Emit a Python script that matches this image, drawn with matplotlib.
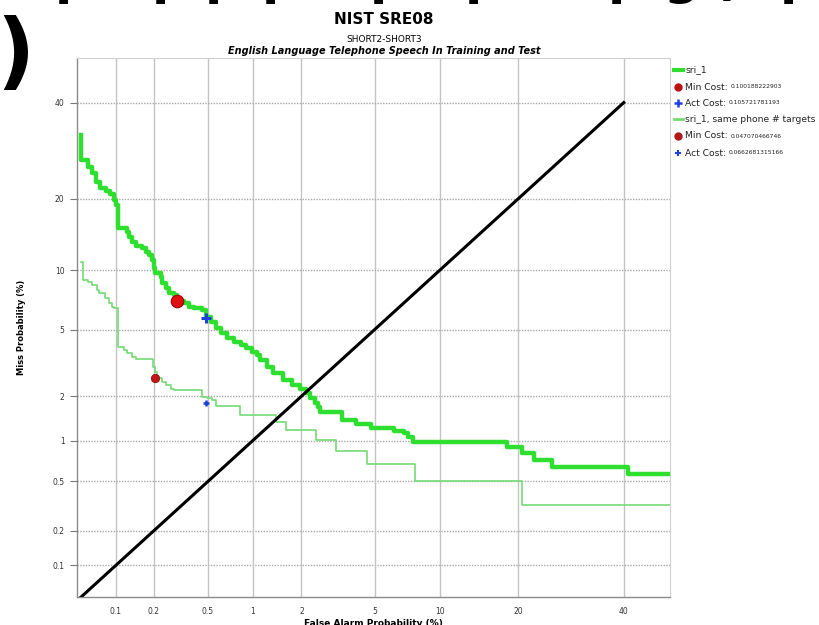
import numpy as np
import matplotlib
matplotlib.use("Agg")
import matplotlib.pyplot as plt
from matplotlib.lines import Line2D
from statistics import NormalDist

# DET curves (percent)
sri1_fa = [0.051, 0.051, 0.058, 0.063, 0.068, 0.074, 0.083, 0.089, 0.096, 0.100,
           0.103, 0.104, 0.123, 0.128, 0.134, 0.145, 0.161, 0.174, 0.183, 0.193,
           0.200, 0.205, 0.226, 0.230, 0.247, 0.260, 0.284, 0.299, 0.336, 0.366,
           0.398, 0.453, 0.48, 0.525, 0.569, 0.616, 0.676, 0.753, 0.838, 0.904,
           0.99, 1.07, 1.11, 1.24, 1.345, 1.55, 1.76, 1.96, 2.13, 2.24,
           2.40, 2.50, 2.56, 3.39, 4.01, 4.80, 6.21, 6.93, 7.22, 7.62,
           18.3, 20.5, 22.6, 25.6, 40.9, 51.0]
sri1_miss = [32.6, 27.3, 25.9, 24.7, 23.0, 21.9, 21.3, 20.8, 19.7, 18.9,
             18.0, 15.4, 14.8, 14.1, 13.4, 12.9, 12.6, 12.1, 11.7, 11.1,
             10.3, 9.7, 9.3, 8.7, 8.2, 7.8, 7.6, 7.1, 6.9, 6.6,
             6.5, 6.35, 5.85, 5.5, 5.1, 4.8, 4.5, 4.27, 4.09, 3.93,
             3.75, 3.58, 3.35, 3.06, 2.79, 2.53, 2.35, 2.24, 2.09, 1.95,
             1.80, 1.70, 1.57, 1.39, 1.30, 1.22, 1.17, 1.13, 1.06, 0.98,
             0.90, 0.81, 0.72, 0.64, 0.57, 0.57]

phone_fa = [0.051, 0.053, 0.059, 0.063, 0.069, 0.073, 0.082, 0.087, 0.092, 0.097,
            0.104, 0.116, 0.123, 0.134, 0.145, 0.196, 0.205, 0.21, 0.23, 0.247,
            0.27, 0.284, 0.453, 0.49, 0.53, 0.565, 0.83, 1.40, 1.62, 2.42,
            3.14, 4.57, 7.75, 20.5, 51.0]
phone_miss = [10.95, 9.0, 8.82, 8.50, 8.04, 7.74, 7.30, 6.89, 6.62, 6.49,
              4.00, 3.83, 3.66, 3.50, 3.38, 3.05, 2.85, 2.62, 2.47, 2.35,
              2.24, 2.19, 1.98, 1.94, 1.89, 1.72, 1.50, 1.35, 1.19, 1.01,
              0.85, 0.676, 0.50, 0.325, 0.325]

# (fa, miss) operating points
sri1_min = (0.299, 7.08)
sri1_act = (0.486, 5.79)
phone_min = (0.205, 2.60)
phone_act = (0.486, 1.82)

legend_labels = ["sri_1", "Min Cost:", "Act Cost:", "sri_1, same phone # targets", "Min Cost:", "Act Cost:"]
legend_values = ["", "0.100188222903", "0.105721781193", "", "0.047070466746", "0.0662681315166"]

ticks = [0.1, 0.2, 0.5, 1, 2, 5, 10, 20, 40]
tick_labels = ["0.1", "0.2", "0.5", "1", "2", "5", "10", "20", "40"]

_nd = NormalDist()

def probit(p):
    p = np.clip(np.asarray(p, dtype=float) / 100.0, 1e-9, 1 - 1e-9)
    return np.vectorize(_nd.inv_cdf, otypes=[float])(p)

def inv_probit(z):
    return np.vectorize(_nd.cdf, otypes=[float])(np.asarray(z, dtype=float)) * 100.0

THICK = "#2fdf2f"
THIN = "#74dc74"

fig = plt.figure(figsize=(8.19, 6.25), dpi=100)
ax = fig.add_axes([77 / 819, 28 / 625, 593 / 819, 539 / 625])
ax.set_xscale("function", functions=(probit, inv_probit))
ax.set_yscale("function", functions=(probit, inv_probit))
ax.set_xlim(0.047, 50.2)
ax.set_ylim(0.051, 50.8)

for t in ticks:
    ax.axvline(t, color="#c4c4c4", lw=1.0, zorder=0)
    ax.axhline(t, color="#a8a8a8", lw=1.0, ls=(0, (1, 1)), zorder=0)

ax.step(sri1_fa, sri1_miss, where="post", color=THICK, lw=3.2, zorder=3)
ax.step(phone_fa, phone_miss, where="post", color=THIN, lw=1.2, zorder=3)
ax.plot([0.047, 40], [0.047, 40], color="black", lw=2.2, zorder=4, clip_on=True)

ax.plot(*sri1_min, "o", ms=9, color="#e01010", mec="#a00000", mew=0.8, zorder=5)
ax.plot(*sri1_act, "+", ms=7, color="#1f3fe0", mew=2.2, zorder=5)
ax.plot(*phone_min, "o", ms=6, color="#c01818", mec="#901010", mew=0.6, zorder=5)
ax.plot(*phone_act, "+", ms=5, color="#1f3fe0", mew=1.8, zorder=5)

ax.set_xticks(ticks)
ax.set_xticklabels(tick_labels)
ax.set_yticks(ticks)
ax.set_yticklabels(tick_labels)
ax.minorticks_off()
ax.tick_params(axis="both", labelsize=5.5, labelcolor="#333333", colors="#777777")
ax.tick_params(axis="x", length=0, pad=7)
ax.tick_params(axis="y", length=5, width=0.8, pad=4)
for side in ["top", "right"]:
    ax.spines[side].set_color("#d0d0d0")
    ax.spines[side].set_linewidth(0.8)
for side in ["left", "bottom"]:
    ax.spines[side].set_color("#8a8a8a")
    ax.spines[side].set_linewidth(1.0)

ax.set_xlabel("False Alarm Probability (%)", fontsize=6.5, fontweight="bold", labelpad=2)
ax.set_ylabel("Miss Probability (%)", fontsize=6, fontweight="bold", labelpad=19)

fig.text(384 / 819, 1 - 19 / 625, "NIST SRE08", ha="center", va="center",
         fontsize=11, fontweight="bold")
fig.text(384 / 819, 1 - 40 / 625, "SHORT2-SHORT3", ha="center", va="center",
         fontsize=6.5)
fig.text(384 / 819, 1 - 51 / 625, "English Language Telephone Speech In Training and Test",
         ha="center", va="center", fontsize=7, style="italic", fontweight="bold")

# legend, drawn by hand so the cost values can be smaller
leg_y = [70, 87, 103, 119, 136, 153]
handles = [dict(color=THICK, lw=3), dict(marker="o", ms=5, color="#c01010"),
           dict(marker="+", ms=5.5, mew=1.8, color="#1f3fe0"), dict(color=THIN, lw=2),
           dict(marker="o", ms=5, color="#b01818"), dict(marker="+", ms=5, mew=1.5, color="#1f3fe0")]
label_texts = []
for y, h, lab in zip(leg_y, handles, legend_labels):
    yf = 1 - y / 625
    if "marker" in h:
        fig.add_artist(Line2D([678 / 819], [yf], ls="none", **h))
    else:
        fig.add_artist(Line2D([674 / 819, 683 / 819], [yf, yf], **h))
    label_texts.append(fig.text(685 / 819, yf, lab, fontsize=6.6, va="center", color="#222222"))

fig.canvas.draw()
r = fig.canvas.get_renderer()
for t, val in zip(label_texts, legend_values):
    if val:
        bb = t.get_window_extent(r)
        fig.text((bb.x1 + 3) / 819, t.get_position()[1], val, fontsize=4.3,
                 va="center", color="#222222")

# clipped slide text around the chart
fig.text(-4 / 819, 1 - 55 / 625, ")", fontsize=60, fontweight="bold", ha="left", va="center")
top_x = [55, 152, 205, 262, 370, 465, 608, 664, 712, 780]
top_ch = ["p", "p", "p", "p", "p", "p", "p", "g", "(", "p"]
for x, ch in zip(top_x, top_ch):
    fig.text(x / 819, 1 + 6 / 625, ch, fontsize=36, fontweight="bold", va="baseline")

fig.savefig("out.png", dpi=100)
